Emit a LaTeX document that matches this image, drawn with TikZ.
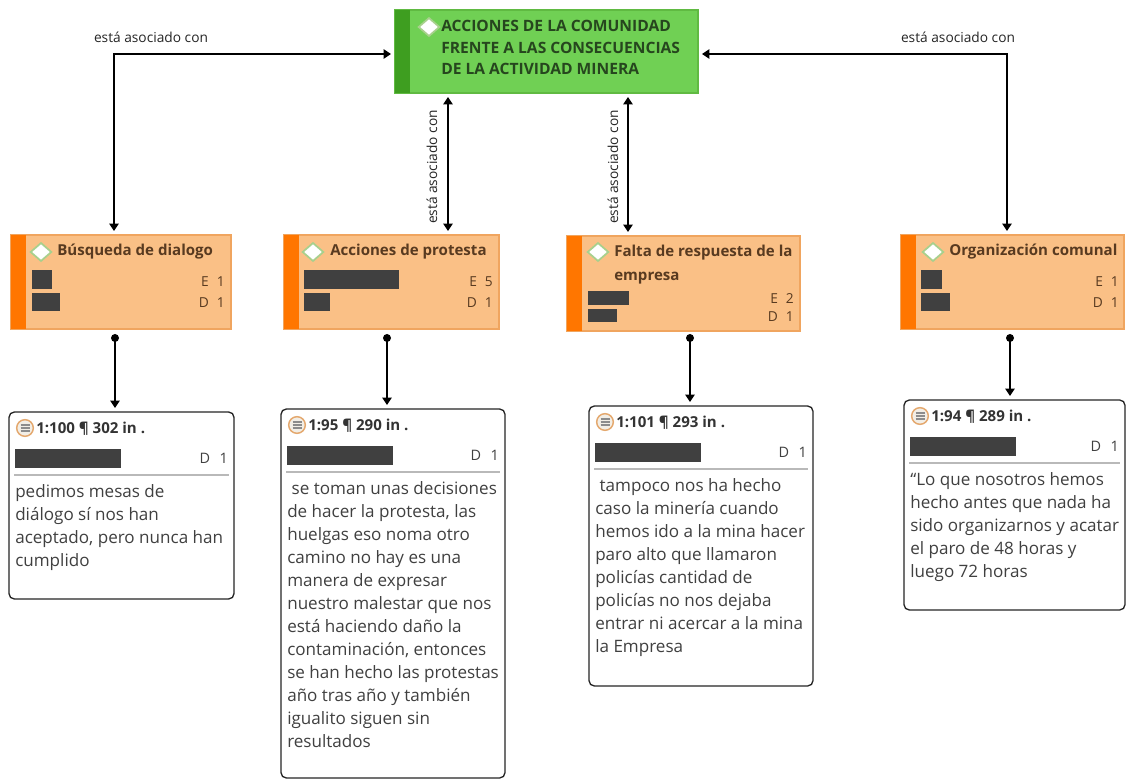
\documentclass[tikz,border=0pt]{standalone}
\usepackage{fontspec}
\setmainfont{Open Sans}
\usetikzlibrary{arrows.meta,shapes.geometric}
\definecolor{gfill}{RGB}{112,208,84}
\definecolor{gstrip}{RGB}{62,158,32}
\definecolor{gborder}{RGB}{96,186,66}
\definecolor{gtext}{RGB}{38,70,30}
\definecolor{ofill}{RGB}{250,192,134}
\definecolor{oborder}{RGB}{240,165,95}
\definecolor{ostrip}{RGB}{255,118,0}
\definecolor{otext}{RGB}{88,58,32}
\definecolor{barc}{RGB}{64,64,64}
\definecolor{qtextc}{RGB}{64,64,64}
\definecolor{sepc}{RGB}{185,185,185}
\definecolor{gemc}{RGB}{168,208,141}
\definecolor{iconring}{RGB}{228,168,110}
\definecolor{iconfill}{RGB}{242,238,230}
\definecolor{iconline}{RGB}{140,140,140}
\newcommand{\QHead}[5]{%
  \node[qicon] (#1icon) at (#2+16,#3+16) {};
  \foreach \dy in {-3,0,3} \draw[iconline,line width=0.8pt] (#2+11.5,#3+16+\dy) -- (#2+20.5,#3+16+\dy);
  \node[qhead] (#1head) at (#2+27,#3+21.5) {#5};
  \fill[barc] (#2+6,#3+37) rectangle (#2+112,#3+56);
  \node[qmeta] (#1meta) at (#4-6,#3+51) {D\hspace{7pt}1};
  \draw[sepc,line width=1.1pt] (#2+5,#3+63) -- (#4-5,#3+63);
}
\begin{document}
\begin{tikzpicture}[x=0.75pt,y=-0.75pt,
  mainbox/.style={rectangle,anchor=north west,inner sep=0pt,outer sep=0pt,fill=gfill,draw=gborder,line width=0.8pt},
  codebox/.style={rectangle,anchor=north west,inner sep=0pt,outer sep=0pt,fill=ofill,draw=oborder,line width=0.8pt},
  quotebox/.style={rectangle,anchor=north west,inner sep=0pt,outer sep=0pt,fill=white,draw=black!85,line width=1pt,rounded corners=4pt},
  gem/.style={diamond,draw=gemc,fill=white,line width=1.3pt,inner sep=0pt,minimum width=16pt,minimum height=14pt},
  codetitle/.style={anchor=base west,inner sep=0pt,font=\bfseries\fontsize{11.3}{18}\selectfont,text=otext,align=left},
  codemeta/.style={anchor=base east,inner sep=0pt,font=\fontsize{10.3}{12}\selectfont,text=otext},
  qicon/.style={circle,draw=iconring,fill=iconfill,line width=1.1pt,inner sep=0pt,minimum size=12.5pt},
  qhead/.style={anchor=base west,inner sep=0pt,font=\bfseries\fontsize{11.3}{13}\selectfont,text=black!80},
  qmeta/.style={anchor=base east,inner sep=0pt,font=\fontsize{10.8}{12}\selectfont,text=black!75},
  qtext/.style={anchor=north west,inner sep=0pt,align=left,font=\fontsize{12.8}{17.25}\selectfont,text=qtextc},
  conn/.style={draw=black,line width=1pt},
  both/.style={conn,{Triangle[length=5.5pt,width=7pt]}-{Triangle[length=5.5pt,width=7pt]},shorten <=3pt,shorten >=3pt},
  down/.style={conn,-{Triangle[length=5.5pt,width=7pt]},shorten >=3pt},
  dotc/.style={circle,fill=black,inner sep=0pt,minimum size=6pt},
  rel/.style={inner sep=0pt,font=\fontsize{10.3}{12}\selectfont,text=black!85}
]
\useasboundingbox (0,0) rectangle (1127,780);
\fill[white] (0,0) rectangle (1127,780);

% main code
\node[mainbox,minimum width=227.25pt,minimum height=62.25pt] (main) at (395,10) {};
\fill[gstrip] (main.north west) rectangle ([xshift=11.25pt]main.south west);
\node[gem] (maingem) at (429,27) {};
\node[anchor=north west,inner sep=0pt,align=left,font=\bfseries\fontsize{11.7}{16.1}\selectfont,text=gtext] (maintext) at (441,16.6) {\strut ACCIONES DE LA COMUNIDAD\\FRENTE A LAS CONSECUENCIAS\\DE LA ACTIVIDAD MINERA};

% code boxes
\node[codebox,minimum width=165pt,minimum height=70.5pt] (b1) at (11,235) {};
\fill[ostrip] (b1.north west) rectangle ([xshift=11.25pt]b1.south west);
\node[gem] (b1gem) at (41,252) {};
\node[codetitle] (b1t) at (57,256) {Búsqueda de dialogo};
\fill[barc] (32,270) rectangle (52,289);
\fill[barc] (32,293) rectangle (60,311);
\node[codemeta] (b1e) at (225,286.3) {E\hspace{6pt}1};
\node[codemeta] (b1d) at (225,307.5) {D\hspace{6pt}1};

\node[codebox,minimum width=161.25pt,minimum height=70.5pt] (b2) at (284,235) {};
\fill[ostrip] (b2.north west) rectangle ([xshift=11.25pt]b2.south west);
\node[gem] (b2gem) at (313,252) {};
\node[codetitle] (b2t) at (330,256) {Acciones de protesta};
\fill[barc] (304,270) rectangle (399,289);
\fill[barc] (304,293) rectangle (330,311);
\node[codemeta] (b2e) at (493,286.3) {E\hspace{6pt}5};
\node[codemeta] (b2d) at (493,307.5) {D\hspace{6pt}1};

\node[codebox,minimum width=174.75pt,minimum height=71.25pt] (b3) at (567,236) {};
\fill[ostrip] (b3.north west) rectangle ([xshift=11.25pt]b3.south west);
\node[gem] (b3gem) at (598,252) {};
\node[codetitle,anchor=north west] (b3t) at (614,239.2) {\strut Falta de respuesta de la\\empresa};
\fill[barc] (588,291) rectangle (629,305);
\fill[barc] (588,309) rectangle (617,322);
\node[codemeta] (b3e) at (794,303.3) {E\hspace{6pt}2};
\node[codemeta] (b3d) at (794,321.3) {D\hspace{6pt}1};

\node[codebox,minimum width=167.25pt,minimum height=70.5pt] (b4) at (901,235) {};
\fill[ostrip] (b4.north west) rectangle ([xshift=11.25pt]b4.south west);
\node[gem] (b4gem) at (933,252) {};
\node[codetitle] (b4t) at (949,256) {Organización comunal};
\fill[barc] (921,270) rectangle (942,289);
\fill[barc] (921,293) rectangle (950,311);
\node[codemeta] (b4e) at (1119,286.3) {E\hspace{6pt}1};
\node[codemeta] (b4d) at (1119,307.5) {D\hspace{6pt}1};

% quote boxes
\node[quotebox,minimum width=168.75pt,minimum height=140.25pt] (q1) at (9,412) {};
\QHead{q1}{9}{412}{234}{1:100 ¶ 302 in .}
\node[qtext] (q1t) at (15,481.5) {\strut pedimos mesas de\\diálogo sí nos han\\aceptado, pero nunca han\\cumplido};

\node[quotebox,minimum width=168pt,minimum height=276.75pt] (q2) at (281,409) {};
\QHead{q2}{281}{409}{505}{1:95 ¶ 290 in .}
\node[qtext] (q2t) at (287,478.5) {\strut\hspace{0.26em}se toman unas decisiones\\de hacer la protesta, las\\huelgas eso noma otro\\camino no hay es una\\manera de expresar\\nuestro malestar que nos\\está haciendo daño la\\contaminación, entonces\\se han hecho las protestas\\año tras año y también\\igualito siguen sin\\resultados};

\node[quotebox,minimum width=168pt,minimum height=210pt] (q3) at (589,406) {};
\QHead{q3}{589}{406}{813}{1:101 ¶ 293 in .}
\node[qtext] (q3t) at (595,475.5) {\strut\hspace{0.26em}tampoco nos ha hecho\\caso la minería cuando\\hemos ido a la mina hacer\\paro alto que llamaron\\policías cantidad de\\policías no nos dejaba\\entrar ni acercar a la mina\\la Empresa};

\node[quotebox,minimum width=165.75pt,minimum height=157.5pt] (q4) at (904,400) {};
\QHead{q4}{904}{400}{1125}{1:94 ¶ 289 in .}
\node[qtext] (q4t) at (910,469.5) {\strut “Lo que nosotros hemos\\hecho antes que nada ha\\sido organizarnos y acatar\\el paro de 48 horas y\\luego 72 horas};

% relations
\coordinate (c1) at (114,54);
\coordinate (c2) at (448,54);
\coordinate (c3) at (628,54);
\coordinate (c4) at (1007,54);
\draw[both] (main.west |- c1) -| (b1.north -| c1);
\draw[both] (main.east |- c4) -| (b4.north -| c4);
\draw[both] (main.south -| c2) -- (b2.north -| c2);
\draw[both] (main.south -| c3) -- (b3.north -| c3);
\node[rel] (l1) at (151,37) {está asociado con};
\node[rel] (l4) at (958,37) {está asociado con};
\node[rel,rotate=90] (l2) at (432,167) {está asociado con};
\node[rel,rotate=90] (l3) at (613,167) {está asociado con};

% code -> quote
\node[dotc] (d1) at (115,338) {};
\node[dotc] (d2) at (387,338) {};
\node[dotc] (d3) at (690,338) {};
\node[dotc] (d4) at (1010,338) {};
\draw[down] (d1.center) -- (q1.north -| d1);
\draw[down] (d2.center) -- (q2.north -| d2);
\draw[down] (d3.center) -- (q3.north -| d3);
\draw[down] (d4.center) -- (q4.north -| d4);
\end{tikzpicture}
\end{document}
